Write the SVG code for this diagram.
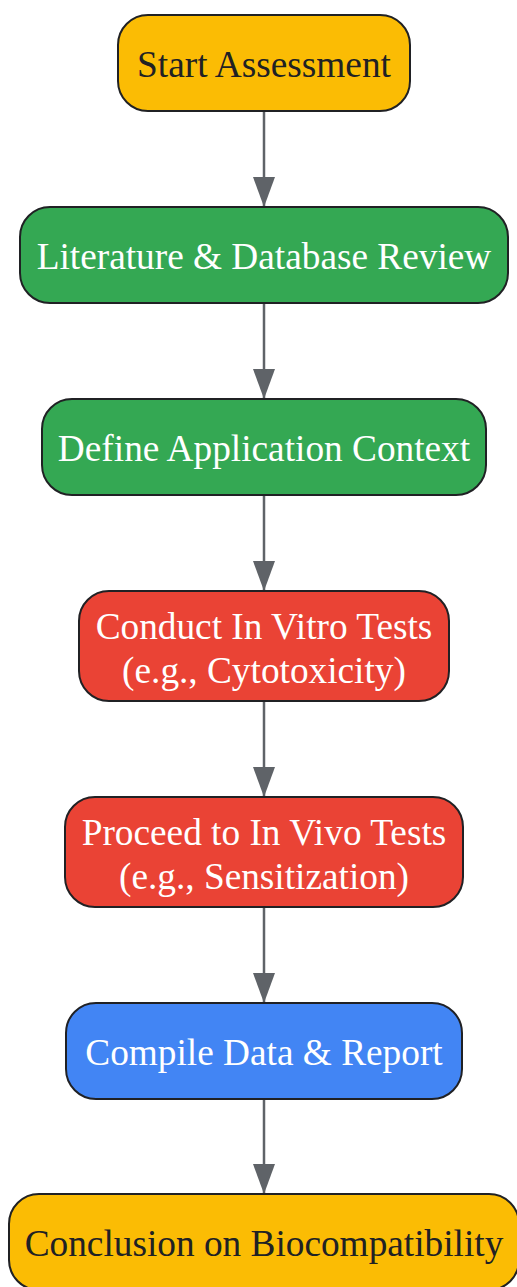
<svg xmlns="http://www.w3.org/2000/svg" width="517" height="1287" viewBox="0 0 517 1287">
<style>
.n{stroke:#202124;stroke-width:2}
.y{fill:#FBBC04}.g{fill:#34A853}.r{fill:#EA4335}.b{fill:#4285F4}
text{font-family:"Liberation Serif","Times New Roman",serif;font-size:37.3px;text-anchor:middle}
.dk{fill:#202124}.wt{fill:#ffffff}
.e{stroke:#5f6368;stroke-width:2.5;fill:none;marker-end:url(#ah)}
</style>
<defs>
<marker id="ah" markerWidth="30" markerHeight="22" refX="30" refY="11" orient="auto" markerUnits="userSpaceOnUse" viewBox="0 0 30 22">
<path d="M0,0 L30,11 L0,22 z" fill="#5f6368"/>
</marker>
</defs>
<rect width="517" height="1287" fill="#ffffff"/>
<g id="edges">
<path class="e" d="M264,111 V207"/>
<path class="e" d="M264,303 V399"/>
<path class="e" d="M264,495 V591"/>
<path class="e" d="M264,701 V797"/>
<path class="e" d="M264,907 V1003"/>
<path class="e" d="M264,1099 V1194"/>
</g>
<g id="n1"><rect class="n y" x="118" y="15" width="292" height="96" rx="30"/><text class="dk" x="264" y="77">Start Assessment</text></g>
<g id="n2"><rect class="n g" x="20" y="207" width="488" height="96" rx="30"/><text class="wt" x="264" y="269">Literature &amp; Database Review</text></g>
<g id="n3"><rect class="n g" x="42" y="399" width="444" height="96" rx="30"/><text class="wt" x="264" y="461">Define Application Context</text></g>
<g id="n4"><rect class="n r" x="79" y="591" width="370" height="110" rx="30"/><text class="wt" x="264" y="639">Conduct In Vitro Tests</text><text class="wt" x="264" y="683">(e.g., Cytotoxicity)</text></g>
<g id="n5"><rect class="n r" x="65" y="797" width="398" height="110" rx="30"/><text class="wt" x="264" y="845">Proceed to In Vivo Tests</text><text class="wt" x="264" y="889">(e.g., Sensitization)</text></g>
<g id="n6"><rect class="n b" x="66" y="1003" width="396" height="96" rx="30"/><text class="wt" x="264" y="1065">Compile Data &amp; Report</text></g>
<g id="n7"><rect class="n y" x="9" y="1194" width="510" height="96" rx="30"/><text class="dk" x="264" y="1256">Conclusion on Biocompatibility</text></g>
</svg>
